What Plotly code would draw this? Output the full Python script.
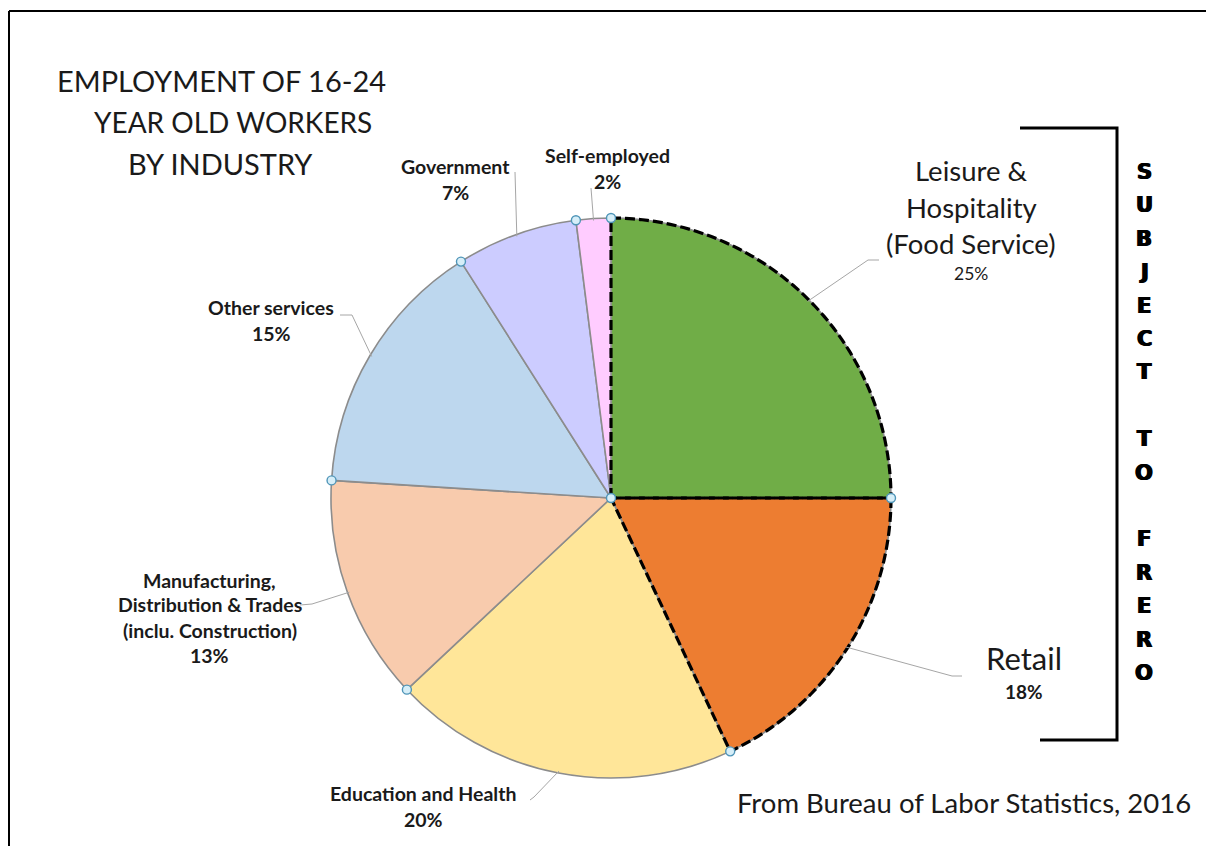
import math
import plotly.graph_objects as go

# data
industries = ["Leisure & Hospitality (Food Service)", "Retail", "Education and Health",
              "Manufacturing, Distribution & Trades (inclu. Construction)",
              "Other services", "Government", "Self-employed"]
shares = [25, 18, 20, 13, 15, 7, 2]
colors = ["#70AD47", "#ED7D31", "#FFE699", "#F8CBAD", "#BDD7EE", "#CCCCFF", "#FFCCFF"]
subject_letters = list("SUBJECT") + [""] + list("TO") + [""] + list("FRERO")

# page has an 8px body margin, so the figure is a bit smaller and coordinates are shifted
OFF = 8
W, H = 1214 - OFF, 846 - OFF
CX, CY, R = 611, 498, 280


def px(x):
    return (x - OFF) / W


def py(y):
    return 1 - (y - OFF) / H


def edge(angle_deg, r=R):
    a = math.radians(angle_deg)
    return CX + r * math.sin(a), CY - r * math.cos(a)


total = sum(shares)
bounds = [0]
for s in shares:
    bounds.append(bounds[-1] + s / total * 360)
mids = [(bounds[i] + bounds[i + 1]) / 2 for i in range(len(shares))]

fig = go.Figure()
fig.add_trace(go.Pie(
    labels=industries, values=shares, sort=False, direction="clockwise", rotation=0,
    marker=dict(colors=colors, line=dict(color="#8c8c8c", width=1.6)),
    textinfo="none", hoverinfo="label+percent", showlegend=False,
    domain=dict(x=[px(CX - R), px(CX + R)], y=[py(CY + R), py(CY - R)]),
))

shapes = []


# dashed outline around Leisure + Retail
def slice_path(a0, a1):
    pts = [edge(a0 + (a1 - a0) * k / 60) for k in range(61)]
    d = f"M {px(CX)},{py(CY)} " + " ".join(f"L {px(x)},{py(y)}" for x, y in pts) + " Z"
    return d


for i in (0, 1):
    shapes.append(dict(type="path", xref="paper", yref="paper",
                       path=slice_path(bounds[i], bounds[i + 1]),
                       line=dict(color="black", width=3.2, dash="10px,4px")))

# selection handles
handle_pts = [edge(b) for b in bounds[:-1]] + [(CX, CY)]
for x, y in handle_pts:
    shapes.append(dict(type="circle", xref="paper", yref="paper",
                       x0=px(x - 4.5), x1=px(x + 4.5), y0=py(y + 4.5), y1=py(y - 4.5),
                       fillcolor="#d6eef8", line=dict(color="#4f95b8", width=1.4)))

# leader lines: label-side points, then the slice edge point
leaders = {
    0: [(879, 260), (868, 260)],
    1: [(962, 676), (952, 676)],
    2: [(530, 800), (534, 797)],
    3: [(300, 605), (312, 604)],
    4: [(340, 315), (352, 315)],
    5: [(515, 172)],
    6: [(591, 188)],
}
for i, pts in leaders.items():
    ex, ey = edge(mids[i], R - 2)
    path_pts = pts + [(ex, ey)]
    d = "M " + " L ".join(f"{px(x)},{py(y)}" for x, y in path_pts)
    shapes.append(dict(type="path", xref="paper", yref="paper", path=d,
                       line=dict(color="#a6a6a6", width=1)))

# bracket on the right
bracket = [(1020, 128), (1117, 128), (1117, 740), (1040, 740)]
shapes.append(dict(type="path", xref="paper", yref="paper",
                   path="M " + " L ".join(f"{px(x)},{py(y)}" for x, y in bracket),
                   line=dict(color="black", width=3)))

# frame lines
shapes.append(dict(type="line", xref="paper", yref="paper", x0=px(9), x1=px(1214), y0=py(11), y1=py(11),
                   line=dict(color="black", width=2)))
shapes.append(dict(type="line", xref="paper", yref="paper", x0=px(9), x1=px(9), y0=py(11), y1=py(846),
                   line=dict(color="black", width=2)))

annotations = []


def text(x, y, s, size, bold=False, family="Lato", color="#1a1a1a", shadow=None):
    if bold:
        s = f"<b>{s}</b>"
    font = dict(family=family, size=size, color=color)
    if shadow:
        font["shadow"] = shadow
    annotations.append(dict(x=px(x), y=py(y), xref="paper", yref="paper", text=s,
                            showarrow=False, xanchor="center", yanchor="middle", font=font))


# title
text(221, 80, "EMPLOYMENT OF 16-24", 29)
text(233, 122, "YEAR OLD WORKERS", 28)
text(220, 163, "BY INDUSTRY", 29)

# slice labels
text(971, 170, "Leisure &", 27.5)
text(971, 208, "Hospitality", 27.5)
text(971, 243, "(Food Service)", 27.5)
text(971, 273, "25%", 17.5)
text(1024, 658, "Retail", 31)
text(1024, 691, "18%", 19, bold=True)
text(423, 793, "Education and Health", 19.5, bold=True)
text(423, 819, "20%", 19.5, bold=True)
text(210, 580, "Manufacturing,", 19.5, bold=True)
text(210, 604, "Distribution &amp; Trades", 19.5, bold=True)
text(210, 630, "(inclu. Construction)", 19.5, bold=True)
text(210, 655, "13%", 19.5, bold=True)
text(271, 307, "Other services", 19.5, bold=True)
text(271, 333, "15%", 19.5, bold=True)
text(455, 166, "Government", 19.5, bold=True)
text(455, 193, "7%", 19.5, bold=True)
text(607, 155, "Self-employed", 19.5, bold=True)
text(607, 181, "2%", 19.5, bold=True)

text(964, 802, "From Bureau of Labor Statistics, 2016", 27.5)

# vertical note
for k, ch in enumerate(subject_letters):
    if ch:
        text(1144, 172 + k * 33.4, ch, 21, bold=True, family="DejaVu Sans", color="black",
             shadow="0.7px 0 0 black, -0.7px 0 0 black")

fig.update_layout(
    width=W, height=H, margin=dict(l=0, r=0, t=0, b=0),
    paper_bgcolor="white", plot_bgcolor="white",
    shapes=shapes, annotations=annotations,
)

fig.write_html("out.html")
